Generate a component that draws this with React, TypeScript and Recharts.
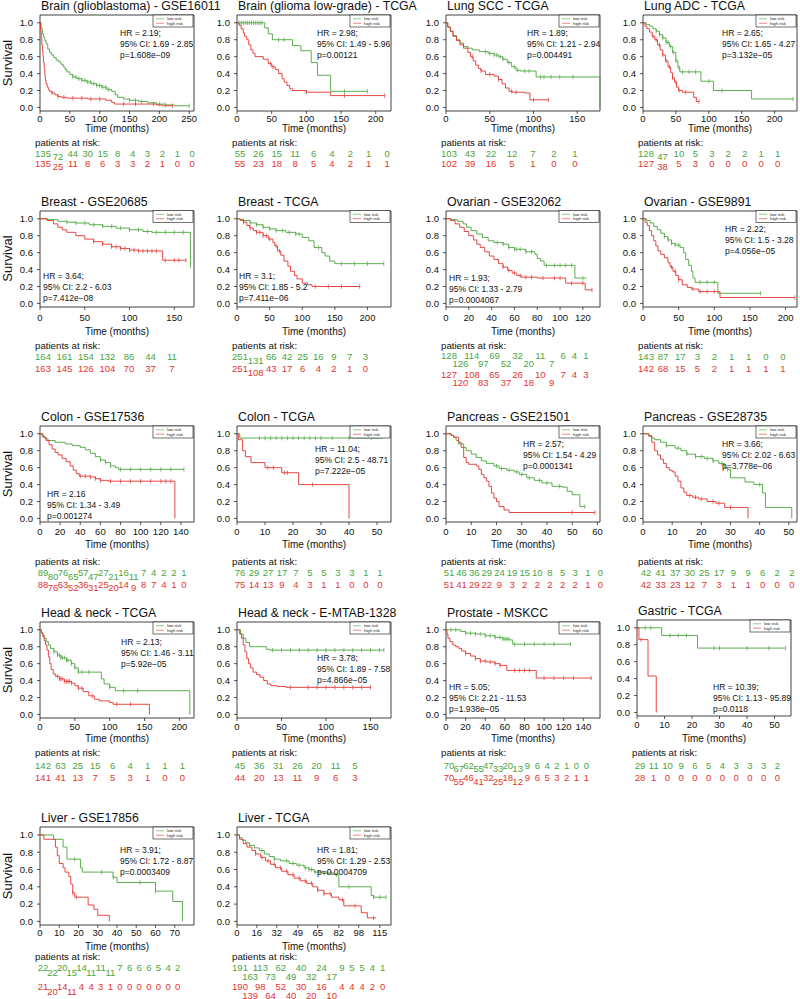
import React from 'react';
import { LineChart, Line, XAxis, YAxis, ReferenceArea } from 'recharts';

const GREEN = '#4aa53c';
const RED = '#e3342f';
const FONT = '"Liberation Sans", Arial, Helvetica, sans-serif';

// ---------- curves: [time, survival] step points ----------
const gbmLow = [[0,1],[2,0.93],[4,0.87],[6,0.83],[8,0.79],[10,0.75],[13,0.69],[16,0.65],[19,0.62],[23,0.59],[27,0.56],[31,0.54],[35,0.51],[39,0.48],[42,0.45],[45,0.42],[50,0.39],[55,0.36],[62,0.34],[70,0.32],[78,0.3],[86,0.28],[95,0.26],[103,0.24],[112,0.21],[120,0.19],[126,0.15],[130,0.12],[140,0.1],[150,0.085],[165,0.07],[180,0.055],[195,0.04],[210,0.03],[225,0.02],[250,0.02]];
const gbmHigh = [[0,1],[1,0.9],[2,0.82],[3,0.74],[4,0.67],[5,0.6],[6,0.53],[7,0.46],[8,0.38],[9,0.32],[10,0.28],[12,0.24],[14,0.21],[16,0.19],[20,0.17],[25,0.15],[30,0.13],[35,0.12],[45,0.11],[80,0.1],[110,0.085],[120,0.06],[125,0.04],[195,0.03],[205,0.02],[222,0.02]];
const gbmLowC = [55,60,65,70,75,80,85,90,95,100,105,110,115,150,160,170,200,210,250];
const gbmHighC = [20,30,40,55,70,85,100,140,160,190,222];

const lggLow = [[0,1],[40,0.94],[45,0.87],[51,0.8],[80,0.73],[92,0.67],[107,0.53],[116,0.38],[135,0.19],[188,0.19]];
const lggHigh = [[0,1],[3,0.97],[6,0.93],[9,0.88],[11,0.84],[14,0.8],[17,0.74],[20,0.68],[23,0.64],[26,0.6],[38,0.57],[45,0.52],[50,0.48],[55,0.45],[60,0.4],[65,0.34],[68,0.3],[72,0.26],[76,0.22],[80,0.2],[100,0.18],[135,0.14],[213,0.14]];
const lggLowC = [3,6,9,12,15,18,21,24,27,30,33,36,60,68,155,188];
const lggHighC = [48,52,100,155,213];

const sccLow = [[0,1],[2,0.95],[5,0.9],[8,0.85],[12,0.8],[16,0.76],[20,0.72],[25,0.7],[30,0.68],[38,0.66],[48,0.64],[55,0.62],[60,0.6],[65,0.57],[70,0.53],[75,0.48],[80,0.44],[85,0.43],[103,0.36],[176,0]];
const sccHigh = [[0,1],[2,0.95],[5,0.9],[8,0.84],[12,0.79],[16,0.74],[20,0.7],[25,0.65],[28,0.6],[31,0.55],[34,0.5],[37,0.46],[40,0.43],[45,0.39],[55,0.37],[60,0.33],[64,0.28],[68,0.23],[72,0.19],[76,0.18],[90,0.17],[96,0.09],[117,0.09]];
const sccLowC = [45,50,55,58,62,65,72,78,82,90,95,108,112,120,130,145];
const sccHighC = [30,40,50,60,75,80,100,117];

const adcLow = [[0,1],[5,0.98],[10,0.96],[15,0.93],[20,0.9],[25,0.86],[30,0.82],[35,0.77],[40,0.72],[45,0.65],[50,0.55],[53,0.47],[56,0.42],[88,0.31],[107,0.2],[165,0.1],[228,0.1]];
const adcHigh = [[0,1],[3,0.96],[6,0.93],[10,0.89],[14,0.84],[18,0.8],[22,0.74],[26,0.68],[30,0.62],[34,0.55],[38,0.48],[42,0.41],[45,0.35],[48,0.3],[51,0.24],[54,0.2],[60,0.18],[77,0.12],[81,0.07],[85,0.07]];
const adcLowC = [20,25,30,35,38,42,46,50,55,60,70,80,100,120,228];
const adcHighC = [15,20,25,30,35,40,45,50,55,65,85];

const br1Low = [[0,1],[8,0.99],[20,0.97],[30,0.96],[40,0.95],[55,0.93],[70,0.91],[85,0.89],[100,0.87],[115,0.85],[125,0.84],[168,0.42]];
const br1High = [[0,1],[8,0.98],[15,0.94],[20,0.9],[25,0.87],[30,0.84],[40,0.8],[50,0.76],[60,0.73],[70,0.7],[80,0.67],[90,0.65],[100,0.63],[110,0.62],[137,0.51],[163,0.51]];
const br1LowC = [30,40,50,60,70,80,90,100,110,120,130,140,150,160];
const br1HighC = [60,70,80,85,90,95,100,105,110,115,120,125,130,140,150,155,163];

const br2Low = [[0,1],[5,0.99],[10,0.98],[20,0.95],[30,0.93],[40,0.9],[50,0.88],[60,0.86],[75,0.84],[90,0.82],[100,0.78],[110,0.74],[118,0.66],[130,0.6],[135,0.56],[142,0.5],[150,0.47],[225,0.47]];
const br2High = [[0,1],[5,0.98],[10,0.96],[15,0.92],[20,0.89],[25,0.86],[30,0.84],[40,0.8],[48,0.76],[55,0.72],[58,0.68],[62,0.62],[67,0.57],[72,0.5],[78,0.44],[82,0.38],[88,0.33],[92,0.29],[100,0.24],[108,0.22],[115,0.2],[188,0.2]];
const br2LowC = [10,20,30,40,50,60,70,80,90,95,125,160,180,200,225];
const br2HighC = [10,20,30,35,40,45,50,60,65,120,140,160,188];

const ov1Low = [[0,1],[5,0.99],[10,0.97],[15,0.94],[18,0.9],[22,0.86],[27,0.82],[32,0.78],[37,0.74],[42,0.72],[50,0.7],[55,0.66],[60,0.64],[70,0.61],[78,0.58],[80,0.53],[83,0.5],[86,0.45],[113,0.3],[123,0.3]];
const ov1High = [[0,1],[4,0.98],[8,0.94],[12,0.9],[16,0.85],[20,0.8],[24,0.75],[27,0.7],[30,0.66],[34,0.61],[38,0.56],[42,0.52],[46,0.47],[50,0.43],[54,0.39],[58,0.36],[62,0.33],[66,0.31],[80,0.3],[105,0.24],[122,0.16],[128,0.16]];
const ov1LowC = [45,50,55,60,62,65,70,75,88,95,100,105,110,120];
const ov1HighC = [50,55,60,65,70,75,85,95,100,110,120,128];

const ov2Low = [[0,1],[5,0.98],[10,0.95],[15,0.91],[20,0.87],[25,0.83],[30,0.79],[35,0.75],[40,0.71],[45,0.69],[52,0.66],[57,0.6],[60,0.52],[64,0.45],[68,0.38],[70,0.3],[73,0.25],[105,0.12],[165,0.12]];
const ov2High = [[0,1],[3,0.96],[6,0.92],[9,0.86],[12,0.8],[15,0.74],[18,0.68],[21,0.62],[25,0.58],[30,0.54],[35,0.48],[38,0.43],[42,0.38],[46,0.33],[50,0.28],[55,0.22],[62,0.19],[68,0.17],[78,0.14],[108,0.07],[213,0.07]];
const ov2LowC = [30,35,40,45,50,80,90,100,165];
const ov2HighC = [40,45,50,70,80,90,100,213];

const co1Low = [[0,1],[2,0.97],[5,0.94],[8,0.92],[15,0.9],[25,0.88],[32,0.86],[40,0.84],[45,0.81],[50,0.77],[55,0.73],[60,0.69],[65,0.66],[70,0.62],[75,0.6],[78,0.58],[143,0.58]];
const co1High = [[0,1],[3,0.96],[6,0.92],[9,0.87],[12,0.82],[15,0.78],[18,0.75],[22,0.71],[26,0.67],[30,0.62],[33,0.57],[36,0.53],[39,0.5],[50,0.49],[55,0.47],[60,0.45],[68,0.44],[134,0]];
const co1LowC = [60,65,70,80,90,100,110,120,130,143];
const co1HighC = [40,45,50,55,60,70,80,90,100,110,120,125,130];

const co2Low = [[0,1],[1,0.95],[52,0.95]];
const co2High = [[0,1],[0.5,0.93],[2,0.8],[3,0.73],[5,0.66],[10,0.6],[16,0.54],[22,0.4],[40,0]];
const co2LowC = [8,10,12,14,16,18,20,22,24,26,28,30,34,40,48];
const co2HighC = [11,13,17,18,27];

const pa1Low = [[0,1],[2,0.98],[3,0.96],[4,0.92],[5,0.88],[7,0.84],[8,0.8],[10,0.76],[12,0.72],[14,0.68],[16,0.65],[19,0.62],[21,0.59],[24,0.57],[27,0.55],[29,0.52],[32,0.48],[35,0.45],[38,0.42],[42,0.38],[46,0.37],[48,0.32],[50,0.28],[53,0.14],[55,0.14]];
const pa1High = [[0,1],[2,0.98],[3,0.96],[5,0.9],[6,0.84],[7,0.72],[8,0.66],[9,0.64],[12,0.62],[13,0.58],[14,0.52],[15,0.48],[16,0.44],[17,0.38],[18,0.3],[19,0.24],[20,0.2],[21,0.14],[23,0.1],[25,0.07],[59,0.07]];
const pa1LowC = [20,22,25,28,30,33,37,40,45,55];
const pa1HighC = [50,59];

const pa2Low = [[0,1],[2,0.98],[3,0.95],[4,0.93],[6,0.9],[8,0.86],[11,0.83],[13,0.8],[15,0.76],[18,0.73],[21,0.71],[24,0.68],[26,0.65],[28,0.6],[29,0.58],[30,0.48],[35,0.43],[38,0.4],[41,0.3],[42,0.13],[51,0]];
const pa2High = [[0,1],[2,0.97],[3,0.9],[4,0.8],[5,0.75],[6,0.7],[7,0.65],[8,0.6],[9,0.57],[10,0.55],[11,0.5],[12,0.44],[13,0.36],[14,0.31],[15,0.27],[17,0.25],[19,0.23],[22,0.2],[25,0.18],[28,0.13],[36,0]];
const pa2LowC = [8,12,15,18,20,22,24,27,29,40];
const pa2HighC = [16,18,20,24,26,30];

const hn1Low = [[0,1],[2,0.97],[4,0.94],[6,0.9],[9,0.86],[12,0.82],[15,0.78],[20,0.74],[25,0.7],[30,0.67],[38,0.64],[45,0.6],[50,0.55],[55,0.5],[88,0.42],[92,0.36],[100,0.32],[108,0.28],[215,0]];
const hn1High = [[0,1],[2,0.96],[4,0.92],[6,0.87],[8,0.82],[10,0.76],[12,0.68],[14,0.6],[16,0.53],[19,0.48],[22,0.45],[28,0.42],[35,0.39],[45,0.37],[50,0.34],[55,0.31],[62,0.27],[70,0.22],[78,0.18],[85,0.16],[100,0.14],[105,0.12],[157,0]];
const hn1LowC = [20,25,28,30,32,35,38,40,45,50,55,60,70,100,120,140];
const hn1HighC = [25,28,30,32,35,38,40,42,45,55,60,75,110,130];

const hn2Low = [[0,1],[4,0.95],[7,0.9],[10,0.85],[14,0.8],[33,0.77],[37,0.76],[165,0.76]];
const hn2High = [[0,1],[3,0.95],[5,0.9],[7,0.82],[9,0.74],[11,0.66],[13,0.6],[15,0.55],[18,0.5],[22,0.47],[26,0.44],[30,0.4],[34,0.36],[38,0.34],[45,0.33],[55,0.32],[150,0.32]];
const hn2LowC = [40,50,60,70,80,90,100,110,120,130,140,150,160,165];
const hn2HighC = [60,80,90,100,110,120,130,140,150];

const prLow = [[0,1],[15,0.98],[20,0.96],[30,0.95],[40,0.93],[50,0.91],[58,0.89],[65,0.88],[68,0.83],[127,0.83]];
const prHigh = [[0,1],[1,0.95],[2,0.9],[4,0.86],[7,0.82],[10,0.8],[13,0.78],[16,0.75],[20,0.72],[25,0.69],[30,0.66],[35,0.63],[42,0.62],[50,0.6],[55,0.58],[62,0.52],[92,0.43],[148,0.43]];
const prLowC = [5,10,20,25,30,35,40,45,50,55,58,60,62,64,70,80,90,100,110,127];
const prHighC = [20,30,35,40,45,50,55,70,75,80,85,100,110,120,130,148];

const gaLow = [[0,1],[9,0.91],[22,0.76],[54,0.76]];
const gaHigh = [[0,1],[0.7,0.86],[4,0.43],[7,0]];
const gaLowC = [3,5,12,15,18,28,30,40,48,54];
const gaHighC = [1.5];

const li1Low = [[0,1],[7,0.95],[12,0.86],[14,0.72],[21,0.62],[22,0.57],[38,0.51],[40,0.45],[60,0.35],[69,0.23],[74,0]];
const li1High = [[0,1],[2,0.95],[8,0.86],[9,0.76],[10,0.67],[12,0.62],[13,0.57],[15,0.52],[16,0.43],[17,0.33],[18,0.28],[25,0.19],[28,0.14],[30,0.07],[36,0]];
const li1LowC = [18,32,38,52,60];
const li1HighC = [17,19];

const li2Low = [[0,1],[2,0.97],[4,0.94],[7,0.91],[10,0.88],[14,0.85],[18,0.82],[22,0.78],[26,0.75],[30,0.72],[35,0.7],[42,0.67],[48,0.65],[54,0.62],[58,0.6],[62,0.57],[70,0.56],[78,0.54],[82,0.4],[108,0.3],[110,0.28],[120,0.28]];
const li2High = [[0,1],[2,0.95],[5,0.9],[8,0.86],[12,0.82],[15,0.78],[19,0.74],[23,0.7],[27,0.66],[31,0.62],[36,0.58],[41,0.54],[46,0.5],[51,0.47],[56,0.44],[61,0.4],[65,0.36],[70,0.32],[76,0.28],[82,0.25],[86,0.18],[100,0.1],[105,0.04],[112,0.04]];
const li2LowC = [10,20,30,40,45,50,55,58,60,63,66,70,73,76,80,90,110,115,120];
const li2HighC = [15,20,25,30,35,40,45,50,55,60,65,70,75,85,95,110];

// ---------- titles, ticks, stats, risk tables ----------
const titles = ['Brain (glioblastoma) - GSE16011','Brain (glioma low-grade) - TCGA','Lung SCC - TCGA','Lung ADC - TCGA','Breast - GSE20685','Breast - TCGA','Ovarian - GSE32062','Ovarian - GSE9891','Colon - GSE17536','Colon - TCGA','Pancreas - GSE21501','Pancreas - GSE28735','Head & neck - TCGA','Head & neck - E-MTAB-1328','Prostate - MSKCC','Gastric - TCGA','Liver - GSE17856','Liver - TCGA'];
const xMaxes = [258,222,176,234,172,236,135,216,153,55,61,52.8,221,173,157,56,80,124];
const tk50_250 = [0,50,100,150,200,250];
const tk50_200 = [0,50,100,150,200];
const tk50_150 = [0,50,100,150];
const tk20_120 = [0,20,40,60,80,100,120];
const tk20_140 = [0,20,40,60,80,100,120,140];
const tk10_50 = [0,10,20,30,40,50];
const tk10_60 = [0,10,20,30,40,50,60];
const tk10_70 = [0,10,20,30,40,50,60,70];
const tkLiver = [0,16,32,49,65,82,98,115];
const xTicks = [tk50_250,tk50_200,tk50_150,tk50_200,tk50_150,tk50_200,tk20_120,tk50_200,tk20_140,tk10_50,tk10_60,tk10_50,tk50_200,tk50_150,tk20_140,tk10_50,tk10_70,tkLiver];
const yTicks = [0,0.2,0.4,0.6,0.8,1.0];

const stats = [
  ['HR = 2.19;','95% CI: 1.69 - 2.85','p=1.608e\u221209'],
  ['HR = 2.98;','95% CI: 1.49 - 5.96','p=0.00121'],
  ['HR = 1.89;','95% CI: 1.21 - 2.94','p=0.004491'],
  ['HR = 2.65;','95% CI: 1.65 - 4.27','p=3.132e\u221205'],
  ['HR = 3.64;','95% CI: 2.2 - 6.03','p=7.412e\u221208'],
  ['HR = 3.1;','95% CI: 1.85 - 5.2','p=7.411e\u221206'],
  ['HR = 1.93;','95% CI: 1.33 - 2.79','p=0.0004067'],
  ['HR = 2.22;','95% CI: 1.5 - 3.28','p=4.056e\u221205'],
  ['HR = 2.16','95% CI: 1.34 - 3.49','p=0.001274'],
  ['HR = 11.04;','95% CI: 2.5 - 48.71','p=7.222e\u221205'],
  ['HR = 2.57;','95% CI: 1.54 - 4.29','p=0.0001341'],
  ['HR = 3.66;','95% CI: 2.02 - 6.63','p=3.778e\u221206'],
  ['HR = 2.13;','95% CI: 1.46 - 3.11','p=5.92e\u221205'],
  ['HR = 3.78;','95% CI: 1.89 - 7.58','p=4.866e\u221205'],
  ['HR = 5.05;','95% CI: 2.21 - 11.53','p=1.938e\u221205'],
  ['HR = 10.39;','95% CI: 1.13 - 95.89','p=0.0118'],
  ['HR = 3.91;','95% CI: 1.72 - 8.87','p=0.0003409'],
  ['HR = 1.81;','95% CI: 1.29 - 2.53','p=0.0004709'],
];

const riskLow = [
  [135,72,44,30,15,8,4,3,2,1,0],
  [55,26,15,11,6,4,2,1,0],
  [103,43,22,12,7,2,1],
  [128,47,10,5,3,2,2,1,1],
  [164,161,154,132,86,44,11],
  [251,131,66,42,25,16,9,7,3],
  [128,126,114,97,69,52,32,20,11,7,6,4,1],
  [143,87,17,3,2,1,1,0,0],
  [89,80,76,65,57,47,27,21,16,11,7,4,2,2,1],
  [76,29,27,17,7,5,5,3,3,1,1],
  [51,46,36,29,24,19,15,10,8,5,3,1,0],
  [42,41,37,30,25,17,9,9,6,2,2],
  [142,63,25,15,6,4,1,1,1],
  [45,36,31,26,20,11,5],
  [70,67,62,55,47,33,20,13,9,6,4,2,1,0,0],
  [29,11,10,9,6,5,4,3,3,3,2],
  [22,22,20,15,14,11,11,11,7,6,6,6,5,4,2],
  [191,163,113,73,62,49,40,32,24,17,9,5,5,4,1],
];
const riskHigh = [
  [135,25,11,8,6,3,3,2,1,0,0],
  [55,23,18,8,5,4,2,1,1],
  [102,39,16,5,1,0,0],
  [127,38,5,3,0,0,0,0,0],
  [163,145,126,104,70,37,7],
  [251,108,43,17,6,4,2,1,0],
  [127,120,108,83,65,37,26,18,10,9,7,4,3],
  [142,68,15,5,2,1,1,1,1],
  [88,76,63,52,36,31,25,20,14,9,8,7,4,1,0],
  [75,14,13,9,4,3,1,1,0,0,0],
  [51,41,29,22,9,3,2,2,2,2,2,1,0],
  [42,33,23,12,7,3,1,1,0,0,0],
  [141,41,13,7,5,3,1,0,0],
  [44,20,13,11,9,6,3],
  [70,55,46,41,32,25,18,12,9,6,5,3,2,1,1],
  [28,1,0,0,0,0,0,0,0,0,0],
  [21,20,14,11,4,4,3,1,0,0,0,0,0,0,0],
  [190,139,98,64,52,40,30,20,16,10,4,4,4,2,0],
];
const riskStep = [25,26.5,24,25,24,24,10,24,10,5,5,5,25,21.5,10,5,5,8.2];

const curves = [
  [gbmLow,gbmHigh,gbmLowC,gbmHighC],[lggLow,lggHigh,lggLowC,lggHighC],[sccLow,sccHigh,sccLowC,sccHighC],[adcLow,adcHigh,adcLowC,adcHighC],
  [br1Low,br1High,br1LowC,br1HighC],[br2Low,br2High,br2LowC,br2HighC],[ov1Low,ov1High,ov1LowC,ov1HighC],[ov2Low,ov2High,ov2LowC,ov2HighC],
  [co1Low,co1High,co1LowC,co1HighC],[co2Low,co2High,co2LowC,co2HighC],[pa1Low,pa1High,pa1LowC,pa1HighC],[pa2Low,pa2High,pa2LowC,pa2HighC],
  [hn1Low,hn1High,hn1LowC,hn1HighC],[hn2Low,hn2High,hn2LowC,hn2HighC],[prLow,prHigh,prLowC,prHighC],[gaLow,gaHigh,gaLowC,gaHighC],
  [li1Low,li1High,li1LowC,li1HighC],[li2Low,li2High,li2LowC,li2HighC],
];

// ---------- layout ----------
const COL_LEFT = [40, 237, 446, 643];
const ROW_TOP = [15, 210.5, 426, 622, 827];
const ROW_H = [96, 96, 96, 96, 98];
const BOX_W = 154;
const ROW_TEXT = [
  { time: 128, pat: 143, g: 154, r: 164, tm: 1 },
  { time: 331, pat: 346, g: 357, r: 369, tm: 4.5 },
  { time: 544, pat: 562, g: 573, r: 584.5, tm: 3.5 },
  { time: 738, pat: 753, g: 765.5, r: 778, tm: 2 },
  { time: 946, pat: 957, g: 968, r: 987, tm: 1.5 },
];
// stats placement (offset from box left / top), per panel
const STAT_POS = [[80,18],[80,18],[81,18],[79,18],[3,65.5],[2,65.5],[3,67.5],[82,18.5],[7,68],[78,23],[77,18],[79,18],[81,20],[80,36],[3,65],[76,67],[80,23],[80,23]];
// staggered (lowered) risk numbers
const STAGGER: Record<number, { g: number[]; r: number[]; dy: number; gy?: number; ry?: number }> = {
  0: { g: [1], r: [1], dy: 3 },
  3: { g: [1], r: [1], dy: 3 },
  5: { g: [1], r: [1], dy: 4 },
  6: { g: [1,3,5,7,9], r: [1,3,5,7,9], dy: 8, gy: 356, ry: 375 },
  8: { g: [1,3,5,7,9], r: [1,3,5,7,9], dy: 3.5 },
  14: { g: [1,3,5,7], r: [1,3,5,7], dy: 3.5 },
  16: { g: [1,3,5,7], r: [1,3], dy: 5 },
  17: { g: [1,3,5,7,9], r: [1,3,5,7,9], dy: 9 },
};

function boxOf(i: number) {
  const row = Math.floor(i / 4);
  const col = i % 4;
  let left = COL_LEFT[col];
  let top = ROW_TOP[row];
  if (i === 15) { left = 637; top = 620; }
  return { row, col, left, top, h: ROW_H[row] };
}

function build(curve: number[][], cens: number[]) {
  const pts = curve.map(([t, s]) => ({ t, s, c: false }));
  for (const c of cens) {
    let s = 1;
    for (const [t, v] of curve) if (t <= c) s = v;
    pts.push({ t: c, s, c: true });
  }
  pts.sort((a, b) => a.t - b.t || (a.c ? 1 : 0) - (b.c ? 1 : 0));
  return pts;
}

const censorDot = (color: string) => (props: any) => {
  const { cx, cy, payload, index } = props;
  if (!payload || !payload.c || cx == null || cy == null) return <g key={`d${index}`} />;
  return <line key={`d${index}`} x1={cx} x2={cx} y1={cy - 2.2} y2={cy + 2.2} stroke={color} strokeWidth={0.7} />;
};

const tickStyle = { fontSize: 9.5, fill: '#111', fontFamily: FONT };

function KMChart({ i }: { i: number }) {
  const b = boxOf(i);
  const [lo, hi, loC, hiC] = curves[i] as [number[][], number[][], number[], number[]];
  const lowData = build(lo, loC);
  const highData = build(hi, hiC);
  const xmax = xMaxes[i];
  const W = 40 + BOX_W + 6;
  const H = 4 + b.h + 22;
  return (
    <div style={{ position: 'absolute', left: b.left - 40, top: b.top - 4, width: W, height: H }}>
      <LineChart width={W} height={H} margin={{ top: 4, right: 6, left: 10, bottom: 0 }}>
        <XAxis dataKey="t" type="number" domain={[0, xmax]} ticks={xTicks[i]} interval={0}
          tickSize={3} tickMargin={ROW_TEXT[b.row].tm} axisLine={false} height={22}
          tick={tickStyle} tickLine={{ stroke: '#111', strokeWidth: 0.7 }} />
        <YAxis type="number" domain={[-0.042, 1.092]} ticks={yTicks} interval={0}
          tickFormatter={(v: number) => v.toFixed(1)} tickSize={3} tickMargin={4} axisLine={false} width={30}
          tick={tickStyle} tickLine={{ stroke: '#111', strokeWidth: 0.7 }} />
        <ReferenceArea x1={0} x2={xmax} y1={-0.042} y2={1.092} fill="none" fillOpacity={0}
          stroke="#111" strokeWidth={0.8} strokeOpacity={1} ifOverflow="visible" />
        <Line data={lowData} dataKey="s" type="stepAfter" stroke={GREEN} strokeWidth={0.9}
          dot={censorDot(GREEN)} activeDot={false} isAnimationActive={false} legendType="none" />
        <Line data={highData} dataKey="s" type="stepAfter" stroke={RED} strokeWidth={0.9}
          dot={censorDot(RED)} activeDot={false} isAnimationActive={false} legendType="none" />
      </LineChart>
    </div>
  );
}

function Overlay() {
  const items: React.ReactNode[] = [];
  titles.forEach((title, i) => {
    const b = boxOf(i);
    const rt = ROW_TEXT[b.row];
    const right = b.left + BOX_W;
    const xmax = xMaxes[i];
    items.push(<text key={`t${i}`} x={b.left + 1} y={b.top - 9} dy="0.35em" fontSize={12.3} fill="#111">{title}</text>);
    // legend
    items.push(
      <g key={`lg${i}`}>
        <rect x={right - 41} y={b.top} width={40} height={12} fill="#fff" stroke="#111" strokeWidth={0.6} />
        <line x1={right - 38} x2={right - 30} y1={b.top + 3.8} y2={b.top + 3.8} stroke={GREEN} strokeWidth={0.6} />
        <line x1={right - 38} x2={right - 30} y1={b.top + 8.2} y2={b.top + 8.2} stroke={RED} strokeWidth={0.6} />
        <text x={right - 27} y={b.top + 3.8} dy="0.35em" fontSize={4.3} fill="#222">low risk</text>
        <text x={right - 27} y={b.top + 8.2} dy="0.35em" fontSize={4.3} fill="#222">high risk</text>
      </g>
    );
    // stats
    const [hx, hy] = STAT_POS[i];
    stats[i].forEach((s, k) => {
      items.push(<text key={`s${i}-${k}`} x={b.left + hx} y={b.top + hy + k * 11} dy="0.35em" fontSize={8.5} fill="#111">{s}</text>);
    });
    items.push(<text key={`tm${i}`} x={b.left + BOX_W / 2} y={rt.time} dy="0.35em" fontSize={10} textAnchor="middle" fill="#111">Time (months)</text>);
    items.push(<text key={`pr${i}`} x={b.left - 5} y={rt.pat} dy="0.35em" fontSize={9.7} fill="#111">patients at risk:</text>);
    const st = STAGGER[i];
    const gy = st?.gy ?? rt.g;
    const ry = st?.ry ?? rt.r;
    riskLow[i].forEach((n, k) => {
      const x = b.left + (k * riskStep[i]) / xmax * BOX_W + 3;
      const d = st && st.g.includes(k) ? st.dy : 0;
      items.push(<text key={`rg${i}-${k}`} x={x} y={gy + d} dy="0.35em" fontSize={9.5} textAnchor="middle" fill={GREEN}>{n}</text>);
    });
    riskHigh[i].forEach((n, k) => {
      const x = b.left + (k * riskStep[i]) / xmax * BOX_W + 3;
      const d = st && st.r.includes(k) ? st.dy : 0;
      items.push(<text key={`rr${i}-${k}`} x={x} y={ry + d} dy="0.35em" fontSize={9.5} textAnchor="middle" fill={RED}>{n}</text>);
    });
    if (b.col === 0) {
      const cy = b.top + b.h / 2;
      items.push(<text key={`sv${i}`} x={7} y={cy} dy="0.35em" fontSize={13} textAnchor="middle" fill="#111" transform={`rotate(-90 7 ${cy})`}>Survival</text>);
    }
  });
  return (
    <svg width={800} height={999} style={{ position: 'absolute', left: 0, top: 0, pointerEvents: 'none' }} fontFamily={FONT}>
      {items}
    </svg>
  );
}

export default function App() {
  return (
    <div style={{ position: 'absolute', left: 0, top: 0, width: 800, height: 999, background: '#fff', fontFamily: FONT }}>
      {titles.map((_, i) => <KMChart key={i} i={i} />)}
      <Overlay />
    </div>
  );
}
